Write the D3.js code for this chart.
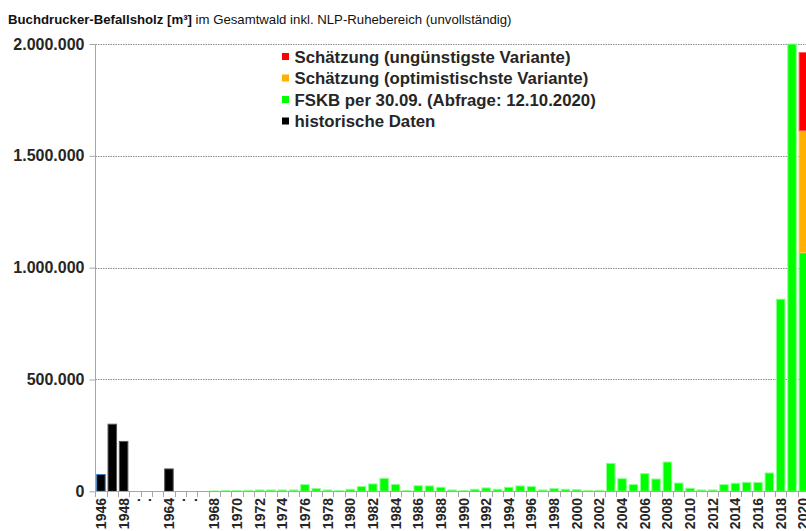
<!DOCTYPE html>
<html>
<head>
<meta charset="utf-8">
<script src="https://cdn.jsdelivr.net/npm/d3@7"></script>
<style>
body { margin: 0; background: #fff; }
svg { display: block; font-family: "Liberation Sans", Arial, sans-serif; }
</style>
</head>
<body>
<div id="chart"></div>
<script>
const width = 806, height = 531;

// categories (odd years and gaps carry no label)
const years = ["1946","1947","1948","a","b","c","1964","d","e","f",
  "1968","1969","1970","1971","1972","1973","1974","1975","1976","1977","1978","1979",
  "1980","1981","1982","1983","1984","1985","1986","1987","1988","1989","1990","1991",
  "1992","1993","1994","1995","1996","1997","1998","1999","2000","2001","2002","2003",
  "2004","2005","2006","2007","2008","2009","2010","2011","2012","2013","2014","2015",
  "2016","2017","2018","2019","2020"];
const labels = ["1946","","1948",".",".","","1964",".",".","",
  "1968","","1970","","1972","","1974","","1976","","1978","",
  "1980","","1982","","1984","","1986","","1988","","1990","",
  "1992","","1994","","1996","","1998","","2000","","2002","",
  "2004","","2006","","2008","","2010","","2012","","2014","",
  "2016","","2018","","2020"];

// historische Daten
const historic = [75000, 300000, 223000, 0, 0, 0, 100000, 0, 0, 0];
// FSKB per 30.09. from 1968
const fskb = [1500, 3000, 3000, 4500, 6000, 6000, 6000, 6000, 30000, 12000, 6000, 3000,
  9000, 21000, 33000, 58000, 31000, 3000, 25000, 24000, 18000, 6000, 3000, 9000,
  15000, 9000, 18000, 24000, 21000, 6000, 12000, 9000, 7500, 4500, 4500, 125000,
  56500, 30000, 79000, 55000, 131000, 37000, 13500, 6000, 6000, 30000, 36000, 40000,
  40000, 82000, 859000, 2000000, 1067000];
// Schätzung 2020
const optimistic = 545000;
const worst = 350000;

const yTicks = [0, 500000, 1000000, 1500000, 2000000];

const colors = {
  worst: "#ff0000",
  optimistic: "#ffb000",
  fskb: "#00ff00",
  historic: "#000000"
};

const de = d3.formatLocale({decimal: ",", thousands: ".", grouping: [3], currency: ["", " €"]});
const fmt = de.format(",d");

const svg = d3.select("#chart").append("svg")
  .attr("width", width)
  .attr("height", height);

const x = d3.scaleBand()
  .domain(years)
  .range([95.3, 809])
  .paddingInner(0.16)
  .paddingOuter(0.08);

const y = d3.scaleLinear()
  .domain([0, 2000000])
  .range([491.3, 44]);

// gridlines
svg.append("g")
  .selectAll("line")
  .data(yTicks.filter(d => d > 0))
  .enter().append("line")
  .attr("x1", 95.5).attr("x2", width)
  .attr("y1", d => Math.round(y(d)) + 0.5)
  .attr("y2", d => Math.round(y(d)) + 0.5)
  .attr("stroke", "#8c8c8c")
  .attr("stroke-dasharray", "1.5,1");

// stacked rows
var rows = [];
historic.forEach((v, i) => {
  if (v > 0) rows.push({key: years[i], y0: 0, y1: v, c: colors.historic, s: i == 0 ? "#3a7fc0" : "#555"});
});
fskb.forEach((v, i) => {
  rows.push({key: years[i + 10], y0: 0, y1: v, c: colors.fskb, s: "#8dff8d"});
});
const f2020 = fskb[fskb.length - 1];
rows.push({key: "2020", y0: f2020, y1: f2020 + optimistic, c: colors.optimistic, s: "#ffc84d"});
rows.push({key: "2020", y0: f2020 + optimistic, y1: f2020 + optimistic + worst, c: colors.worst, s: "#ff6060"});

svg.append("g")
  .selectAll("rect")
  .data(rows)
  .enter().append("rect")
  .attr("x", d => x(d.key) + 0.5)
  .attr("width", x.bandwidth() - 1)
  .attr("y", d => y(d.y1))
  .attr("height", d => Math.max(0.6, y(d.y0) - y(d.y1)))
  .attr("fill", d => d.c)
  .attr("stroke", d => d.s)
  .attr("stroke-width", 1);

// y axis
const yAxis = svg.append("g")
  .attr("transform", "translate(95.5,0)")
  .call(d3.axisLeft(y).tickValues(yTicks).tickFormat(fmt).tickSize(6).tickPadding(5));
yAxis.select(".domain").attr("stroke", "#a6a6a6").attr("d", "M0," + y(2000000) + "V" + y(0));
yAxis.selectAll(".tick line").attr("stroke", "#a6a6a6");
yAxis.selectAll(".tick text")
  .attr("font-size", 16)
  .attr("font-weight", "bold")
  .attr("fill", "#262626");

// x axis baseline + boundary ticks
svg.append("line")
  .attr("x1", 95.5).attr("x2", width)
  .attr("y1", 491.5).attr("y2", 491.5)
  .attr("stroke", "#a6a6a6");
svg.append("g")
  .selectAll("line")
  .data(years)
  .enter().append("line")
  .attr("x1", d => Math.round(x(d) - x.step() * x.paddingInner() / 2) + 0.5)
  .attr("x2", d => Math.round(x(d) - x.step() * x.paddingInner() / 2) + 0.5)
  .attr("y1", 491.5).attr("y2", 497)
  .attr("stroke", "#a6a6a6");

svg.append("g")
  .selectAll("text")
  .data(years)
  .enter().append("text")
  .attr("transform", d => "translate(" + (x(d) + x.bandwidth() / 2) + ",498) rotate(-90)")
  .attr("text-anchor", "end")
  .attr("dy", "0.36em")
  .attr("font-size", 14)
  .attr("font-weight", "bold")
  .attr("fill", "#262626")
  .text((d, i) => labels[i]);

// title
const title = svg.append("text")
  .attr("x", 8).attr("y", 24)
  .attr("font-size", 13.2)
  .attr("fill", "#111");
title.append("tspan").attr("font-weight", "bold").text("Buchdrucker-Befallsholz [m³]");
title.append("tspan").text(" im Gesamtwald inkl. NLP-Ruhebereich (unvollständig)");

// legend
const legendItems = [
  {name: "Schätzung (ungünstigste Variante)", c: colors.worst},
  {name: "Schätzung (optimistischste Variante)", c: colors.optimistic},
  {name: "FSKB per 30.09. (Abfrage: 12.10.2020)", c: colors.fskb},
  {name: "historische Daten", c: colors.historic}
];
const legend = svg.append("g")
  .selectAll("g")
  .data(legendItems)
  .enter().append("g")
  .attr("transform", (d, i) => "translate(282," + (56.5 + i * 21.5) + ")");
legend.append("rect")
  .attr("x", 0).attr("y", -3.5)
  .attr("width", 7).attr("height", 7)
  .attr("fill", d => d.c);
legend.append("text")
  .attr("x", 12.5).attr("dy", "0.36em")
  .attr("font-size", 16.8)
  .attr("font-weight", "bold")
  .attr("fill", "#262626")
  .text(d => d.name);
</script>
</body>
</html>
